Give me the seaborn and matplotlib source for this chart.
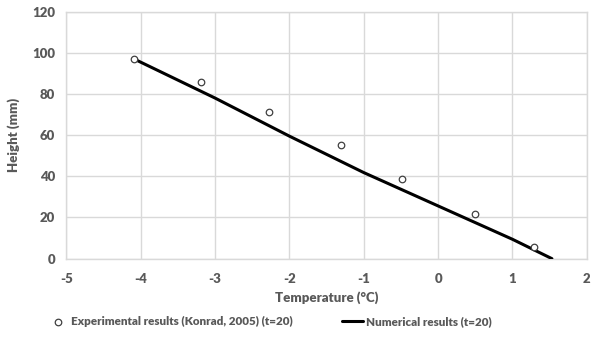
import matplotlib
matplotlib.use("Agg")
import matplotlib.pyplot as plt
import seaborn as sns
import pandas as pd

exp_temp = [-4.09, -3.19, -2.27, -1.31, -0.49, 0.50, 1.29]
exp_height = [97.0, 85.6, 71.4, 55.0, 38.5, 21.7, 5.7]
num_temp = [-4.09, -3.0, -2.0, -1.0, 0.0, 1.0, 1.53]
num_height = [97.0, 78.0, 59.5, 41.8, 25.6, 9.4, 0.0]
xticks = [-5, -4, -3, -2, -1, 0, 1, 2]
yticks = [0, 20, 40, 60, 80, 100, 120]

sns.set_theme(style="white")
plt.rcParams['font.family'] = ['Lato', 'DejaVu Sans']
plt.rcParams['axes.unicode_minus'] = False

fig = plt.figure(figsize=(5.97, 3.5), dpi=100)
ax = fig.add_axes([0.111, 0.261, 0.872, 0.706])

grey = "#595959"
gridc = "#d9d9d9"
W = "heavy"

df_exp = pd.DataFrame({"t": exp_temp, "h": exp_height})
df_num = pd.DataFrame({"t": num_temp, "h": num_height})

sns.lineplot(data=df_num, x="t", y="h", ax=ax, color="black", linewidth=2.2,
             label="Numerical results (t=20)", zorder=3, sort=False)
sns.scatterplot(data=df_exp, x="t", y="h", ax=ax, marker="o", s=22,
                facecolor="white", edgecolor="#404040", linewidth=0.9,
                label="Experimental results (Konrad, 2005) (t=20)", zorder=4)

ax.set_xlim(-5, 2)
ax.set_ylim(0, 120)
ax.set_xticks(xticks)
ax.set_yticks(yticks)
ax.grid(True, color=gridc, linewidth=1.0)
for s in ax.spines.values():
    s.set_color(gridc)
    s.set_linewidth(1.0)
ax.tick_params(axis="x", length=0, labelsize=9.5, labelcolor=grey, pad=10)
ax.tick_params(axis="y", length=0, labelsize=9.5, labelcolor=grey, pad=8)
for lab in ax.get_xticklabels() + ax.get_yticklabels():
    lab.set_fontweight(W)
ax.set_xlabel("Temperature (°C)", fontsize=9.5, fontweight=W, color=grey, labelpad=5)
ax.set_ylabel("Height (mm)", fontsize=9.5, fontweight=W, color=grey, labelpad=9)

handles, labels = ax.get_legend_handles_labels()
order = [1, 0]
leg = ax.legend([handles[i] for i in order], [labels[i] for i in order],
                loc="center", bbox_to_anchor=(0.39, -0.255),
                ncol=2, frameon=False, fontsize=8.4, columnspacing=4.2,
                handlelength=1.8, handletextpad=0.25)
for t in leg.get_texts():
    t.set_color(grey)
    t.set_fontweight(W)

fig.savefig("out.png", dpi=100)
